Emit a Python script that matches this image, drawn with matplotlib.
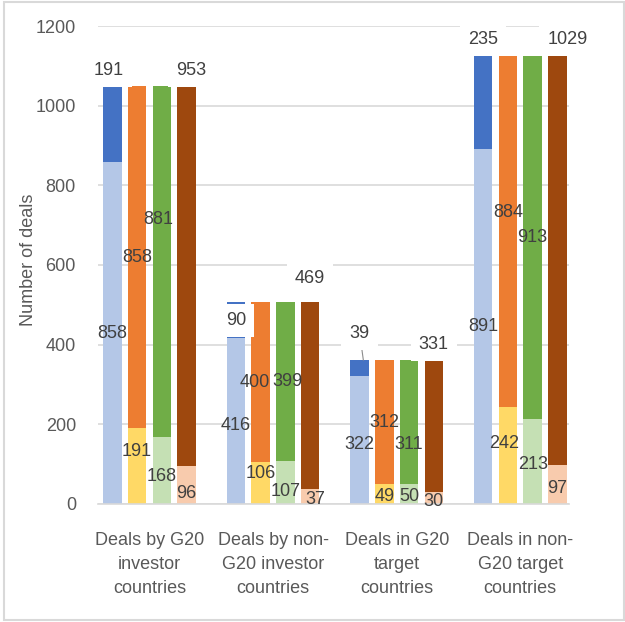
import matplotlib.pyplot as plt
import numpy as np
from matplotlib.patches import Rectangle

plt.rcParams["font.family"] = ["Liberation Sans", "DejaVu Sans"]

groups = [
    "Deals by G20\ninvestor\ncountries",
    "Deals by non-\nG20 investor\ncountries",
    "Deals in G20\ntarget\ncountries",
    "Deals in non-\nG20 target\ncountries",
]

# four stacked bars per group, each with a lower and an upper part
bar1_low = [858, 416, 322, 891]
bar1_high = [191, 90, 39, 235]
bar2_low = [191, 106, 49, 242]
bar2_high = [858, 400, 312, 884]
bar3_low = [168, 107, 50, 213]
bar3_high = [881, 399, 311, 913]
bar4_low = [96, 37, 30, 97]
bar4_high = [953, 469, 331, 1029]

low_colors = ["#b4c7e7", "#ffd966", "#c5e0b4", "#f8cbad"]
high_colors = ["#4472c4", "#ed7d31", "#70ad47", "#9e480e"]

lows = [bar1_low, bar2_low, bar3_low, bar4_low]
highs = [bar1_high, bar2_high, bar3_high, bar4_high]

label_color = "#404040"
grid_color = "#d9d9d9"

# manual nudges of some data labels (data units), like the hand-placed originals
nudge = {
    (0, 1, 0): 35, (0, 2, 0): -16, (0, 3, 0): -21, (0, 2, 1): 105,
    (1, 0, 0): -12, (1, 1, 0): 24, (1, 2, 0): -23, (1, 3, 0): -8,
    (2, 0, 0): -13, (2, 1, 0): -6, (2, 2, 0): -7, (2, 3, 0): -10, (2, 2, 1): -57,
    (3, 1, 0): 30, (3, 2, 0): -8, (3, 3, 0): -10, (3, 1, 1): 49,
}
xnudge = {(0, 0, 1): -0.03, (0, 3, 1): 0.04, (0, 2, 1): -0.03,
          (1, 1, 1): -0.05, (1, 2, 1): 0.02, (1, 3, 0): 0.04,
          (3, 3, 1): 0.08, (3, 1, 0): -0.03}
# upper labels of outer bars sit above the bar
above = {0: 40, 3: 40}
above_extra = {(1, 3): 21, (2, 0): 28}

fig = plt.figure(figsize=(6.25, 6.22), dpi=100)
ax = fig.add_axes([0.157, 0.190, 0.753, 0.768])

x = np.arange(len(groups))
offsets = [-0.3, -0.1, 0.1, 0.3]
width = 0.15

for b in range(4):
    xb = x + offsets[b]
    ax.bar(xb, lows[b], width, color=low_colors[b], zorder=2)
    ax.bar(xb, highs[b], width, bottom=lows[b], color=high_colors[b], zorder=2)

    for g in range(len(groups)):
        lo = lows[b][g]
        hi = highs[b][g]
        # lower part label
        y = lo / 2 + nudge.get((g, b, 0), 0)
        ax.text(xb[g] + xnudge.get((g, b, 0), 0), y, str(lo), ha="center",
                va="center", fontsize=13, color=label_color, zorder=4)

        # upper part label
        box = None
        if b in above and not (g == 1 and b == 0):
            y = lo + hi + above[b] + above_extra.get((g, b), 0)
            box = dict(boxstyle="square,pad=0.45", fc="white", ec="none")
        else:
            y = lo + hi / 2 + nudge.get((g, b, 1), 0)
            if b == 0:
                box = dict(boxstyle="square,pad=0.45", fc="white", ec="none")
        xt = xb[g] + xnudge.get((g, b, 1), 0)
        if (g, b) == (2, 0):
            ax.annotate(str(hi), xy=(xb[g] + 0.03, lo + hi), xytext=(xt, y),
                        ha="center", va="center", fontsize=13, color=label_color,
                        bbox=box, zorder=4,
                        arrowprops=dict(arrowstyle="-", color="#8c8c8c", lw=0.8,
                                        shrinkA=0, shrinkB=0))
        else:
            ax.text(xt, y, str(hi), ha="center", va="center", fontsize=13,
                    color=label_color, bbox=box, zorder=4)

ax.set_ylim(0, 1200)
ax.set_xlim(-0.416, 3.392)
ax.set_yticks(range(0, 1201, 200))
ax.set_xticks(x)
ax.set_xticklabels(groups, linespacing=1.55)
ax.yaxis.grid(True, color=grid_color, lw=1.2)
ax.set_axisbelow(True)
for side in ["top", "right", "left"]:
    ax.spines[side].set_visible(False)
ax.spines["bottom"].set_color(grid_color)
ax.spines["bottom"].set_linewidth(1.2)
ax.tick_params(axis="both", length=0, labelsize=13, labelcolor="#595959")
ax.tick_params(axis="y", pad=16)
ax.tick_params(axis="x", pad=20)

fig.text(0.045, 1 - 260 / 622, "Number of deals", rotation=90, ha="center",
         va="center", fontsize=13, color="#595959")

fig.patches.append(Rectangle((0.006, 0.003), 0.992, 0.994, transform=fig.transFigure,
                             fill=False, ec=grid_color, lw=1.5))

fig.savefig("out.png", dpi=100)
